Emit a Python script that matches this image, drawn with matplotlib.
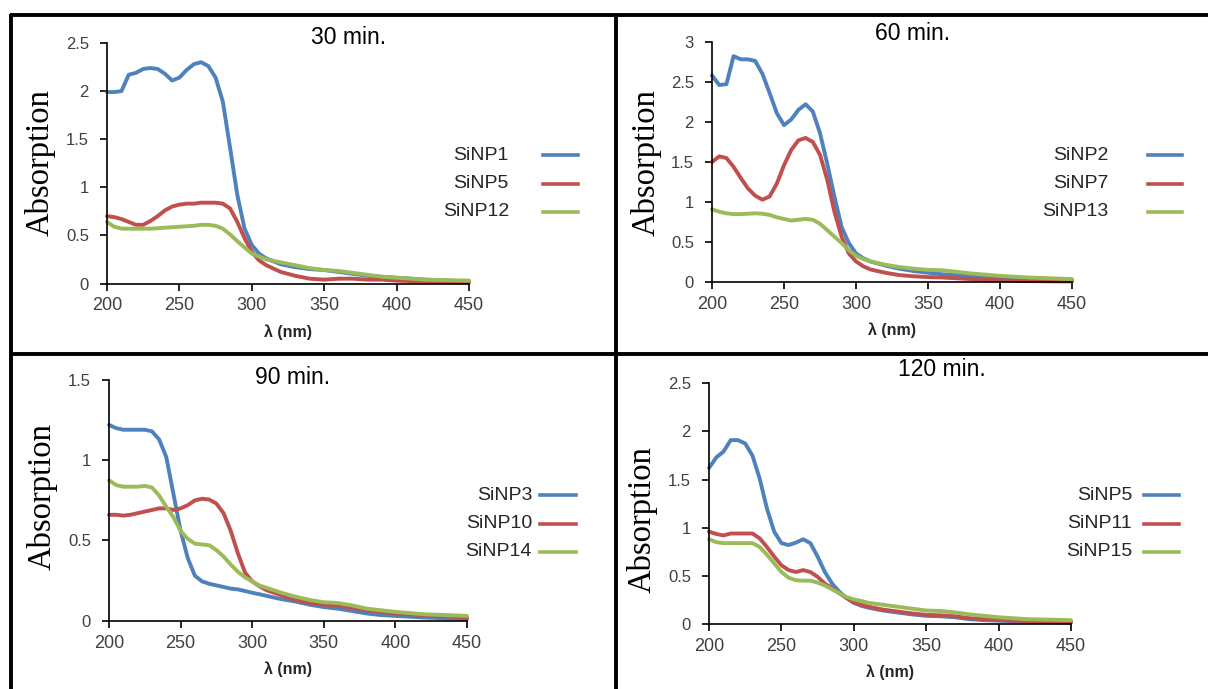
import numpy as np
import matplotlib
matplotlib.use("Agg")
import matplotlib.pyplot as plt
from matplotlib.lines import Line2D
from matplotlib.ticker import FormatStrFormatter

# Wavelength grid (nm)
wl = [200, 205, 210, 215, 220, 225, 230, 235, 240, 245, 250, 255, 260, 265, 270,
      275, 280, 285, 290, 295, 300, 305, 310, 320, 330, 340, 350, 360, 370, 380,
      390, 400, 420, 450]

# 30 min.
sinp1 = [1.99, 1.99, 2.00, 2.17, 2.19, 2.23, 2.24, 2.23, 2.18, 2.11, 2.14, 2.22, 2.28, 2.30, 2.26,
         2.14, 1.89, 1.41, 0.92, 0.57, 0.40, 0.31, 0.26, 0.20, 0.17, 0.15, 0.14, 0.12, 0.10, 0.08,
         0.07, 0.06, 0.04, 0.02]
sinp5_30 = [0.70, 0.69, 0.67, 0.64, 0.61, 0.61, 0.65, 0.70, 0.76, 0.80, 0.82, 0.83, 0.83, 0.84, 0.84,
            0.84, 0.83, 0.78, 0.64, 0.47, 0.33, 0.24, 0.19, 0.12, 0.08, 0.05, 0.04, 0.05, 0.05, 0.04,
            0.04, 0.03, 0.02, 0.01]
sinp12 = [0.64, 0.59, 0.57, 0.57, 0.57, 0.57, 0.57, 0.575, 0.58, 0.585, 0.59, 0.595, 0.60, 0.61, 0.61,
          0.60, 0.57, 0.51, 0.44, 0.375, 0.31, 0.28, 0.25, 0.22, 0.19, 0.16, 0.14, 0.13, 0.11, 0.09,
          0.07, 0.06, 0.04, 0.03]

# 60 min.
sinp2 = [2.58, 2.46, 2.47, 2.82, 2.78, 2.78, 2.76, 2.60, 2.36, 2.11, 1.96, 2.03, 2.15, 2.22, 2.13,
         1.86, 1.48, 1.07, 0.69, 0.49, 0.36, 0.30, 0.26, 0.21, 0.17, 0.14, 0.12, 0.10, 0.09, 0.07,
         0.06, 0.05, 0.04, 0.03]
sinp7 = [1.50, 1.57, 1.55, 1.44, 1.30, 1.17, 1.08, 1.03, 1.07, 1.23, 1.46, 1.65, 1.77, 1.80, 1.75,
         1.59, 1.28, 0.88, 0.57, 0.36, 0.26, 0.20, 0.16, 0.12, 0.09, 0.075, 0.065, 0.06, 0.05, 0.04,
         0.03, 0.025, 0.015, 0.01]
sinp13 = [0.91, 0.88, 0.86, 0.85, 0.85, 0.855, 0.86, 0.855, 0.84, 0.81, 0.79, 0.77, 0.78, 0.79, 0.78,
          0.73, 0.65, 0.57, 0.49, 0.40, 0.33, 0.29, 0.26, 0.22, 0.19, 0.17, 0.155, 0.15, 0.13, 0.11,
          0.095, 0.08, 0.06, 0.04]

# 90 min.
sinp3 = [1.22, 1.20, 1.19, 1.19, 1.19, 1.19, 1.18, 1.13, 1.02, 0.79, 0.56, 0.39, 0.28, 0.245, 0.23,
         0.22, 0.21, 0.20, 0.195, 0.185, 0.174, 0.165, 0.155, 0.135, 0.12, 0.10, 0.085, 0.075, 0.06, 0.045,
         0.035, 0.03, 0.02, 0.01]
sinp10 = [0.66, 0.66, 0.655, 0.66, 0.67, 0.68, 0.69, 0.70, 0.70, 0.69, 0.70, 0.72, 0.75, 0.76, 0.755,
          0.73, 0.67, 0.56, 0.42, 0.30, 0.245, 0.215, 0.19, 0.16, 0.13, 0.11, 0.10, 0.095, 0.08, 0.065,
          0.055, 0.045, 0.035, 0.02]
sinp14 = [0.875, 0.845, 0.835, 0.835, 0.835, 0.84, 0.83, 0.78, 0.71, 0.645, 0.56, 0.51, 0.48, 0.475, 0.47,
          0.44, 0.40, 0.35, 0.305, 0.27, 0.245, 0.22, 0.205, 0.175, 0.15, 0.13, 0.115, 0.11, 0.095, 0.075,
          0.065, 0.055, 0.04, 0.03]

# 120 min.
sinp5_120 = [1.62, 1.73, 1.79, 1.91, 1.91, 1.875, 1.75, 1.51, 1.20, 0.96, 0.84, 0.82, 0.845, 0.88, 0.84,
             0.70, 0.54, 0.42, 0.335, 0.27, 0.22, 0.19, 0.17, 0.14, 0.12, 0.10, 0.085, 0.08, 0.07, 0.05,
             0.04, 0.035, 0.025, 0.015]
sinp11 = [0.96, 0.935, 0.92, 0.94, 0.94, 0.94, 0.94, 0.89, 0.80, 0.70, 0.61, 0.56, 0.54, 0.56, 0.54,
          0.49, 0.42, 0.37, 0.32, 0.27, 0.225, 0.20, 0.18, 0.15, 0.13, 0.11, 0.095, 0.09, 0.08, 0.06,
          0.05, 0.04, 0.03, 0.02]
sinp15 = [0.88, 0.85, 0.84, 0.84, 0.84, 0.84, 0.84, 0.80, 0.72, 0.63, 0.54, 0.48, 0.455, 0.45, 0.45,
          0.43, 0.40, 0.36, 0.32, 0.28, 0.255, 0.24, 0.22, 0.20, 0.18, 0.16, 0.14, 0.135, 0.12, 0.10,
          0.085, 0.07, 0.05, 0.04]

titles = ["30 min.", "60 min.", "90 min.", "120 min."]
labels = [["SiNP1", "SiNP5", "SiNP12"],
          ["SiNP2", "SiNP7", "SiNP13"],
          ["SiNP3", "SiNP10", "SiNP14"],
          ["SiNP5", "SiNP11", "SiNP15"]]
series = [[sinp1, sinp5_30, sinp12],
          [sinp2, sinp7, sinp13],
          [sinp3, sinp10, sinp14],
          [sinp5_120, sinp11, sinp15]]
ymax = [2.5, 3.0, 1.5, 2.5]

colors = ["#4F81BD", "#C0504D", "#9BBB59"]

W, H = 1208, 689

# layout in pixels: (axis left, axis right, y of 0, y of top), title pos, ylabel x,
# legend text right edge, legend line start/end, legend first row y
layout = [
    dict(ax=(107, 469, 283.5, 43), title=(349, 38), ylab=(40, 163),
         leg_text=509, leg_line=(543, 578), leg_y=155),
    dict(ax=(712, 1072, 282.3, 41.7), title=(913, 33), ylab=(646, 163),
         leg_text=1108, leg_line=(1148, 1182), leg_y=155),
    dict(ax=(109, 467, 620.7, 380), title=(293, 377), ylab=(42, 497),
         leg_text=532, leg_line=(540, 576), leg_y=495),
    dict(ax=(709, 1071, 624, 383.3), title=(942, 369), ylab=(642, 520),
         leg_text=1132, leg_line=(1144, 1179), leg_y=495),
]
row_gap = 28.5


def fx(x):
    return x / W


def fy(y):
    return 1 - y / H


fig = plt.figure(figsize=(W / 100, H / 100), dpi=100)
fig.patch.set_facecolor("white")

tick_color = "#404040"

for i in range(4):
    lay = layout[i]
    x0, x1, yb, yt = lay["ax"]
    ax = fig.add_axes([fx(x0), fy(yb), fx(x1 - x0), (yb - yt) / H])
    for j in range(3):
        ax.plot(wl, series[i][j], color=colors[j], lw=2.8, solid_joinstyle="round",
                solid_capstyle="round", clip_on=False)
    ax.set_xlim(200, 450)
    ax.set_ylim(0, ymax[i])
    ax.set_xticks([200, 250, 300, 350, 400, 450])
    ax.set_yticks(np.arange(0, ymax[i] + 0.01, 0.5))
    ax.yaxis.set_major_formatter(FormatStrFormatter("%g"))
    for side in ["top", "right"]:
        ax.spines[side].set_visible(False)
    for side in ["left", "bottom"]:
        ax.spines[side].set_color("black")
        ax.spines[side].set_linewidth(1.2)
    ax.tick_params(axis="both", direction="out", length=5, width=1.2, color="black")
    ax.tick_params(axis="x", labelsize=13, labelcolor=tick_color, pad=5)
    ax.tick_params(axis="y", labelsize=12, labelcolor=tick_color, pad=8)
    for lab in ax.get_xticklabels() + ax.get_yticklabels():
        lab.set_family("Liberation Sans")
    ax.set_xlabel("λ (nm)", fontsize=11.5, fontweight="bold", family="Liberation Sans",
                  color="#262626", labelpad=7)
    ax.patch.set_alpha(0)

    # title
    tx, ty = lay["title"]
    fig.text(fx(tx), fy(ty), titles[i], fontsize=16.5, family="Liberation Sans",
             ha="center", va="center", color="black")
    # y label
    lx, ly = lay["ylab"]
    fig.text(fx(lx), fy(ly), "Absorption", fontsize=23.5, family="Liberation Serif",
             rotation=90, ha="center", va="center", color="black")

    # legend (labels right-aligned, line after)
    l0, l1 = lay["leg_line"]
    for j in range(3):
        yy = lay["leg_y"] + j * row_gap
        fig.text(fx(lay["leg_text"]), fy(yy), labels[i][j], fontsize=14,
                 family="Liberation Sans", ha="right", va="center", color="#262626")
        fig.add_artist(Line2D([fx(l0), fx(l1)], [fy(yy), fy(yy)], color=colors[j],
                              lw=2.6, transform=fig.transFigure))

# panel border lines
border = dict(color="black", lw=2.8, transform=fig.transFigure, solid_capstyle="butt")
fig.add_artist(Line2D([fx(10), 1], [fy(15), fy(15)], **border))
fig.add_artist(Line2D([fx(10), 1], [fy(354), fy(354)], **border))
fig.add_artist(Line2D([fx(11), fx(11)], [fy(13.5), 0], **border))
fig.add_artist(Line2D([fx(616), fx(616)], [fy(13.5), 0], **border))

fig.savefig("out.png", dpi=100)
